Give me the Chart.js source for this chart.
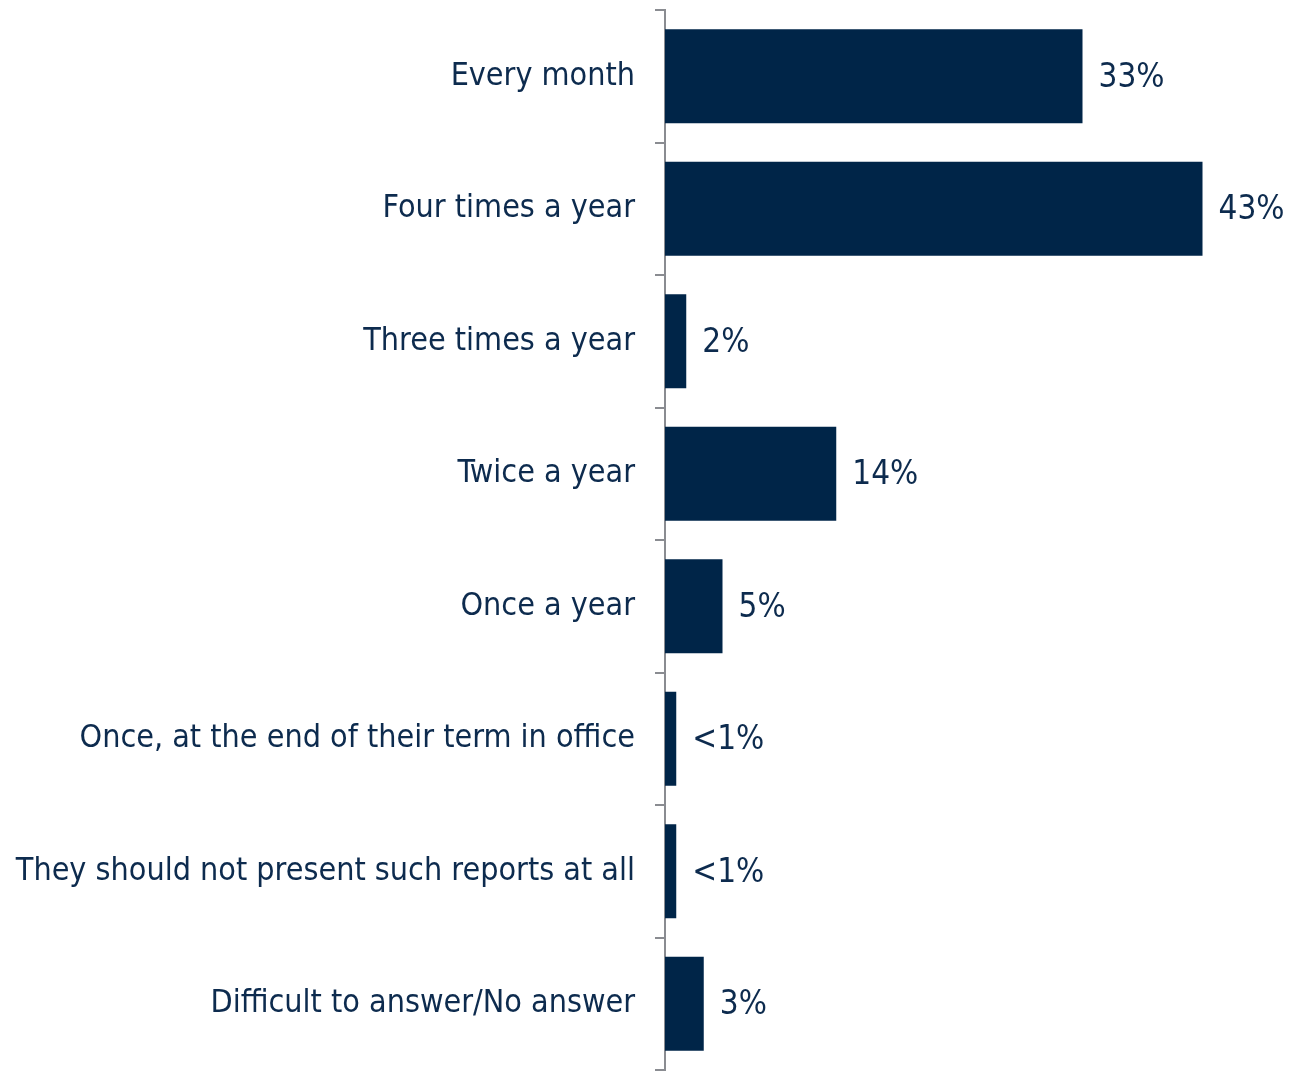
<!DOCTYPE html>
<html>
<head>
<meta charset="utf-8">
<script src="https://cdn.jsdelivr.net/npm/chart.js@4/dist/chart.umd.min.js"></script>
<style>
html,body{margin:0;padding:0;background:#fff;}
#wrap{width:1297px;height:1074px;}
</style>
</head>
<body>
<div id="wrap"><canvas id="c" width="1297" height="1074"></canvas></div>
<script>
const categories = [
  "Every month",
  "Four times a year",
  "Three times a year",
  "Twice a year",
  "Once a year",
  "Once, at the end of their term in office",
  "They should not present such reports at all",
  "Difficult to answer/No answer"
];
const values = [33.4, 43.0, 1.7, 13.7, 4.6, 0.9, 0.9, 3.1];
const valueLabels = ["33%", "43%", "2%", "14%", "5%", "<1%", "<1%", "3%"];

const FONT = "'DejaVu Sans Condensed', 'DejaVu Sans', sans-serif";
const TEXT = "#0d2b4e";

const valueLabelPlugin = {
  id: 'valueLabels',
  afterDatasetsDraw(chart) {
    const ctx = chart.ctx;
    const meta = chart.getDatasetMeta(0);
    ctx.save();
    ctx.font = "33px " + FONT;
    ctx.fillStyle = TEXT;
    ctx.textAlign = 'left';
    ctx.textBaseline = 'middle';
    meta.data.forEach((bar, i) => {
      ctx.fillText(valueLabels[i], bar.x + 16, bar.y + 2);
    });
    ctx.restore();
  }
};

new Chart(document.getElementById('c'), {
  type: 'bar',
  data: {
    labels: categories,
    datasets: [{
      data: values,
      backgroundColor: '#002548',
      borderWidth: 0,
      categoryPercentage: 1.0,
      barPercentage: 0.71
    }]
  },
  options: {
    indexAxis: 'y',
    responsive: false,
    animation: false,
    devicePixelRatio: 1,
    layout: { padding: { left: 0, right: 7, top: 10, bottom: 4 } },
    plugins: { legend: { display: false }, tooltip: { enabled: false } },
    scales: {
      x: { display: false, min: 0, max: 50 },
      y: {
        afterFit: s => { s.width = 665; s.paddingTop = 0; s.paddingBottom = 0; },
        border: { display: true, color: '#8a8c91', width: 2 },
        grid: {
          offset: true,
          drawOnChartArea: false,
          drawTicks: true,
          tickLength: 10,
          color: '#8a8c91',
          lineWidth: 2
        },
        ticks: {
          color: TEXT,
          padding: 20,
          font: { family: FONT, size: 32 }
        }
      }
    }
  },
  plugins: [valueLabelPlugin]
});
</script>
</body>
</html>
